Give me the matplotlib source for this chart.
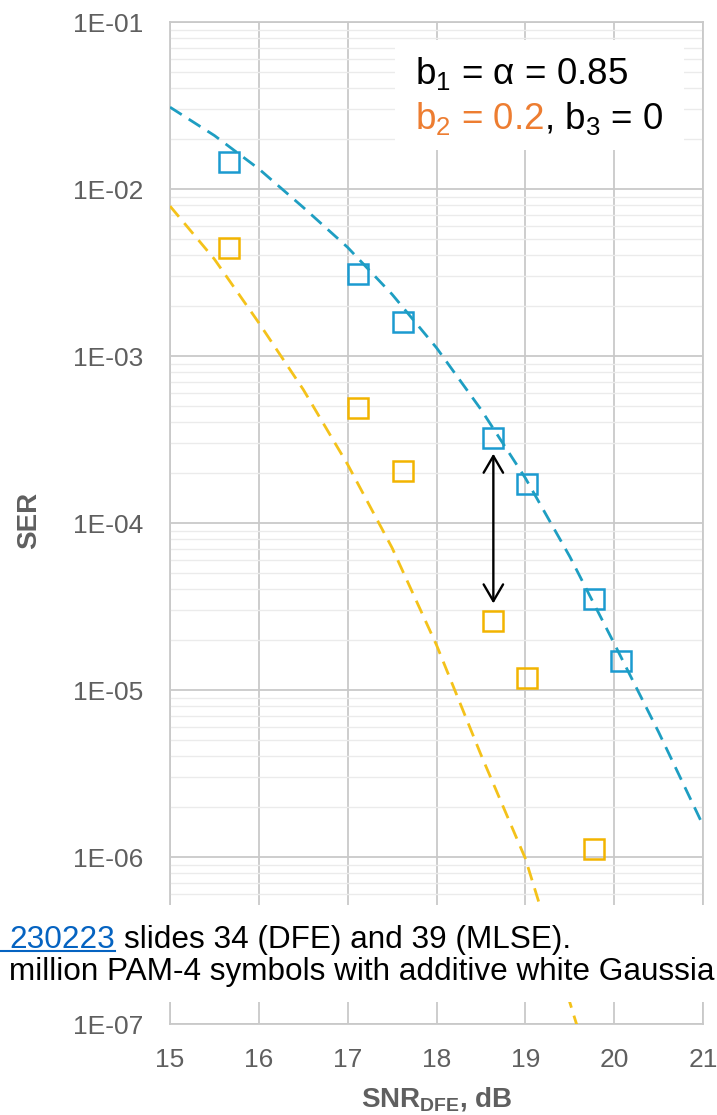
import matplotlib
matplotlib.use("Agg")
import matplotlib.pyplot as plt
from matplotlib.patches import Rectangle
from matplotlib.lines import Line2D

plt.rcParams['font.family'] = ['Liberation Sans', 'DejaVu Sans']
plt.rcParams['mathtext.fontset'] = 'custom'
plt.rcParams['mathtext.rm'] = 'Liberation Sans'
plt.rcParams['mathtext.it'] = 'Liberation Sans:italic'
plt.rcParams['mathtext.bf'] = 'Liberation Sans:bold'

# Simulated SER (square markers)
dfe_snr = [15.66, 17.12, 17.62, 18.64, 19.02, 19.77, 20.08]
dfe_ser = [1.45e-2, 3.08e-3, 1.59e-3, 3.25e-4, 1.72e-4, 3.52e-5, 1.50e-5]

mlse_snr = [15.66, 17.12, 17.62, 18.64, 19.02, 19.77]
mlse_ser = [4.42e-3, 4.85e-4, 2.06e-4, 2.60e-5, 1.18e-5, 1.12e-6]

# Theoretical SER curves (dashed)
dfe_curve_snr = [15.0, 15.5, 16.0, 16.5, 17.0, 17.5, 18.0, 18.5, 19.0, 19.5, 20.0, 20.5, 21.0]
dfe_curve_ser = [3.09e-2, 2.09e-2, 1.32e-2, 7.76e-3, 4.47e-3, 2.34e-3, 1.12e-3,
                 4.79e-4, 1.86e-4, 6.3e-5, 1.9e-5, 5.6e-6, 1.55e-6]

mlse_curve_snr = [15.0, 15.5, 16.0, 16.5, 17.0, 17.5, 18.0, 18.5, 19.0, 19.5, 19.6]
mlse_curve_ser = [7.9e-3, 3.8e-3, 1.58e-3, 6.3e-4, 2.24e-4, 7.1e-5, 1.86e-5,
                  4.1e-6, 9.8e-7, 1.35e-7, 9.1e-8]

# Gap arrow between the two simulated points at the same SNR
gap_snr = 18.64
gap_top = 2.6e-4
gap_bottom = 3.3e-5

x_ticks = [15, 16, 17, 18, 19, 20, 21]
y_ticks = [1e-7, 1e-6, 1e-5, 1e-4, 1e-3, 1e-2, 1e-1]
y_tick_labels = ['1E-07', '1E-06', '1E-05', '1E-04', '1E-03', '1E-02', '1E-01']

BLUE_MK = '#1B9AD0'
BLUE_LN = '#1E9EC2'
GOLD_MK = '#F2B400'
GOLD_LN = '#F4C21A'
ORANGE = '#ED7D31'
GRID = '#c9c9c9'
MINOR = '#ebebeb'
TICK = '#5f5f5f'

W, H = 717, 1115
fig = plt.figure(figsize=(W / 100, H / 100), dpi=100)
ax = fig.add_axes([170 / W, 1 - 1024 / H, (703 - 170) / W, (1024 - 22) / H])

ax.set_yscale('log')
ax.set_xlim(15, 21)
ax.set_ylim(1e-7, 1e-1)

ax.set_xticks(x_ticks)
ax.set_xticklabels([str(v) for v in x_ticks])
ax.set_yticks(y_ticks)
ax.set_yticklabels(y_tick_labels)
ax.yaxis.set_minor_locator(matplotlib.ticker.LogLocator(base=10, subs=range(2, 10), numticks=20))
ax.yaxis.set_minor_formatter(matplotlib.ticker.NullFormatter())

ax.grid(True, which='major', color=GRID, lw=1.3)
ax.grid(True, which='minor', axis='y', color=MINOR, lw=1.0)
ax.set_axisbelow(True)
for s in ax.spines.values():
    s.set_color(GRID)
    s.set_linewidth(1.3)
ax.tick_params(which='both', length=0)
ax.tick_params(axis='y', pad=19, labelsize=19, labelcolor=TICK)
ax.tick_params(axis='x', pad=17, labelsize=19, labelcolor=TICK)

dash = (5.0, 3.0)
ax.plot(dfe_curve_snr, dfe_curve_ser, color=BLUE_LN, lw=2.0, dashes=dash, zorder=3)
ax.plot(mlse_curve_snr, mlse_curve_ser, color=GOLD_LN, lw=2.0, dashes=dash, zorder=3)

ax.plot(dfe_snr, dfe_ser, ls='none', marker='s', ms=15, mfc='none', mec=BLUE_MK, mew=1.8, zorder=2)
ax.plot(mlse_snr, mlse_ser, ls='none', marker='s', ms=15, mfc='none', mec=GOLD_MK, mew=1.8, zorder=2)

ax.annotate('', xy=(gap_snr, gap_top), xytext=(gap_snr, gap_bottom),
            arrowprops=dict(arrowstyle='<->,head_length=0.6,head_width=0.35',
                            color='black', lw=1.7, mutation_scale=20,
                            shrinkA=0, shrinkB=0), zorder=4)

ax.set_ylabel('SER', fontsize=20, fontweight='bold', color=TICK)
ax.yaxis.set_label_coords(-0.240, 0.503)
ax.set_xlabel(r'SNR$_{\mathbf{DFE}}$, dB', fontsize=20, fontweight='bold', color=TICK)
ax.xaxis.set_label_coords(0.501, -0.061)

# Parameter box
fig.add_artist(Rectangle((395 / W, 1 - 150 / H), 289 / W, 110 / H,
                         transform=fig.transFigure, facecolor='white', edgecolor='none', zorder=5))
fig.text(415 / W, 1 - 84 / H, r'b$_1$ = α = 0.85', fontsize=26.5, color='black',
         va='baseline', ha='left', zorder=6)
t2 = fig.text(415 / W, 1 - 129 / H, r'b$_2$ = 0.2', fontsize=26.5, color=ORANGE,
              va='baseline', ha='left', zorder=6)
fig.canvas.draw()
bb = t2.get_window_extent()
fig.text(bb.x1 / W, 1 - 129 / H, r', b$_3$ = 0', fontsize=26.5, color='black',
         va='baseline', ha='left', zorder=6)

# Caption band laid across the lower part of the chart
fig.add_artist(Rectangle((0, 1 - 1002 / H), 1, 97 / H,
                         transform=fig.transFigure, facecolor='white', edgecolor='none', zorder=5))
ref = fig.text(9 / W, 1 - 948 / H, '230223', fontsize=22.7, color='#0563C1',
               va='baseline', ha='left', zorder=6)
fig.canvas.draw()
rb = ref.get_window_extent()
fig.add_artist(Line2D([0, rb.x1 / W], [1 - 951 / H, 1 - 951 / H], color='#0563C1', lw=1.5,
                      transform=fig.transFigure, zorder=6))
fig.text(rb.x1 / W + 9 / W, 1 - 948 / H, 'slides 34 (DFE) and 39 (MLSE).', fontsize=22.7,
         color='black', va='baseline', ha='left', zorder=6)
fig.text(9 / W, 1 - 980 / H, 'million PAM-4 symbols with additive white Gaussia', fontsize=22.7,
         color='black', va='baseline', ha='left', zorder=6)

fig.savefig('out.png', dpi=100)
